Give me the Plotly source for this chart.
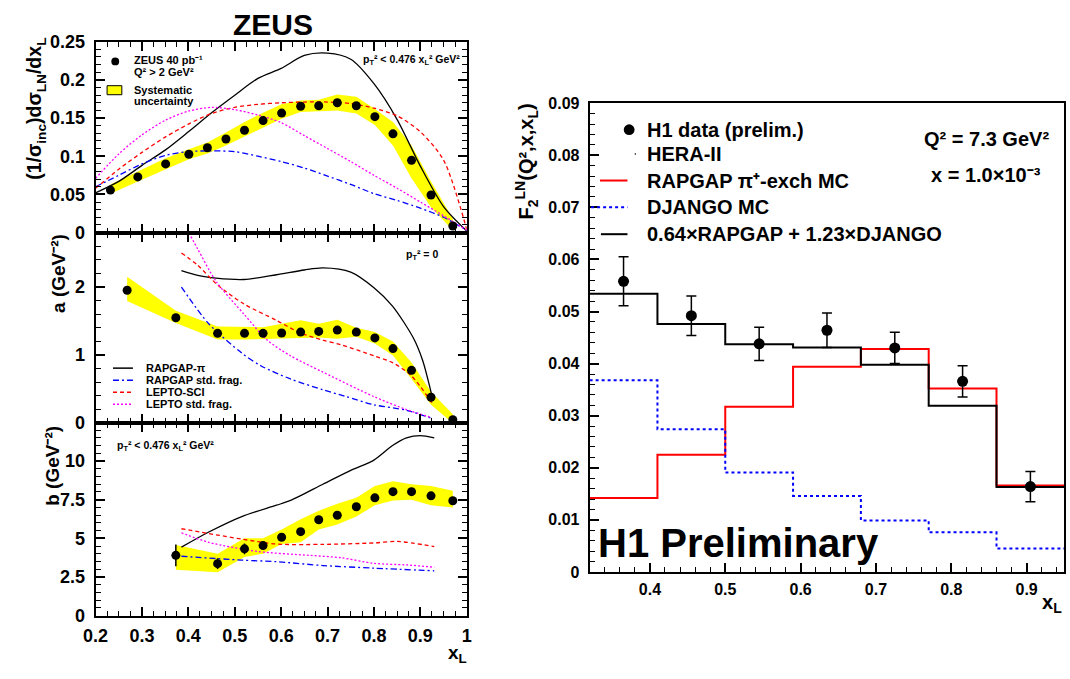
import plotly.graph_objects as go

# ---------------- ZEUS (left) data ----------------
x_top = [0.232, 0.291, 0.351, 0.401, 0.441, 0.481, 0.521, 0.561, 0.601, 0.642,
         0.681, 0.721, 0.762, 0.802, 0.841, 0.881, 0.923, 0.970]
sigma_top = [0.0556, 0.0729, 0.0899, 0.1026, 0.1111, 0.1226, 0.134, 0.1467, 0.1565,
             0.1654, 0.1662, 0.170, 0.1662, 0.1518, 0.1293, 0.0946, 0.0492, 0.0085]
sigma_top_hi = [0.0628, 0.0797, 0.0975, 0.109, 0.118, 0.131, 0.145, 0.157, 0.168,
                0.173, 0.174, 0.181, 0.178, 0.162, 0.145, 0.114, 0.067, 0.018]
sigma_top_lo = [0.0509, 0.067, 0.083, 0.096, 0.1035, 0.114, 0.126, 0.138, 0.149,
                0.158, 0.159, 0.160, 0.156, 0.141, 0.114, 0.071, 0.033, 0.003]

xc_top = [0.2, 0.25, 0.3, 0.35, 0.4, 0.45, 0.5, 0.55, 0.6, 0.65, 0.7, 0.75, 0.8,
          0.85, 0.9, 0.95, 1.0]
top_rapgap_pi = [0.052, 0.067, 0.088, 0.108, 0.132, 0.157, 0.180, 0.202, 0.215, 0.232,
                 0.235, 0.227, 0.195, 0.148, 0.087, 0.034, 0.002]
top_rapgap_std = [0.060, 0.075, 0.090, 0.101, 0.106, 0.107, 0.106, 0.100, 0.093, 0.0845,
                  0.074, 0.063, 0.051, 0.042, 0.032, 0.020, 0.003]
top_lepto_sci = [0.058, 0.083, 0.105, 0.125, 0.142, 0.156, 0.164, 0.168, 0.170, 0.171,
                 0.171, 0.169, 0.163, 0.153, 0.132, 0.095, 0.004]
top_lepto_std = [0.071, 0.103, 0.128, 0.147, 0.159, 0.164, 0.161, 0.154, 0.144, 0.127,
                 0.110, 0.093, 0.075, 0.058, 0.040, 0.022, 0.003]

x_mid = [0.268, 0.373, 0.463, 0.521, 0.561, 0.601, 0.642, 0.681, 0.721, 0.762,
         0.802, 0.841, 0.881, 0.923, 0.970]
a_mid = [1.952, 1.548, 1.319, 1.319, 1.319, 1.324, 1.338, 1.348, 1.367, 1.338,
         1.252, 1.095, 0.776, 0.381, 0.052]
a_mid_hi = [2.15, 1.65, 1.42, 1.42, 1.41, 1.46, 1.51, 1.46, 1.52, 1.40, 1.34, 1.20,
            0.89, 0.46, 0.13]
a_mid_lo = [1.795, 1.47, 1.23, 1.23, 1.23, 1.24, 1.25, 1.26, 1.24, 1.27, 1.17, 0.995,
            0.65, 0.27, 0.0]

mid_rapgap_pi_x = [0.385, 0.42, 0.46, 0.52, 0.59, 0.65, 0.69, 0.75, 0.80, 0.84, 0.885,
                   0.905, 0.925]
mid_rapgap_pi = [2.24, 2.17, 2.13, 2.11, 2.18, 2.25, 2.28, 2.22, 1.99, 1.72, 1.25, 0.92, 0.40]
mid_rapgap_std_x = [0.385, 0.444, 0.515, 0.557, 0.62, 0.69, 0.74, 0.80, 0.87, 0.925]
mid_rapgap_std = [2.0, 1.46, 1.03, 0.84, 0.65, 0.49, 0.39, 0.27, 0.19, 0.07]
mid_lepto_sci_x = [0.385, 0.42, 0.463, 0.52, 0.59, 0.64, 0.69, 0.73, 0.80, 0.84, 0.88, 0.925]
mid_lepto_sci = [2.5, 2.32, 2.03, 1.75, 1.51, 1.33, 1.22, 1.15, 0.99, 0.89, 0.70, 0.30]
mid_lepto_std_x = [0.385, 0.42, 0.46, 0.52, 0.57, 0.62, 0.69, 0.80, 0.87, 0.925]
mid_lepto_std = [3.0, 2.56, 2.08, 1.60, 1.22, 0.99, 0.75, 0.39, 0.20, 0.08]

x_bot = [0.373, 0.463, 0.521, 0.561, 0.601, 0.642, 0.681, 0.721, 0.762, 0.802,
         0.841, 0.881, 0.923, 0.970]
b_bot = [3.90, 3.36, 4.32, 4.53, 5.07, 5.43, 6.20, 6.49, 7.04, 7.62, 8.02, 8.02, 7.75, 7.43]
b_bot_err = [0.7, 0.35, 0.35, 0.25, 0.2, 0.15, 0.15, 0.15, 0.15, 0.15, 0.15, 0.15, 0.15, 0.15]
b_bot_hi = [4.57, 4.0, 5.0, 5.0, 5.57, 6.24, 6.78, 7.24, 7.62, 8.39, 8.7, 8.5, 8.39, 8.08]
b_bot_lo = [2.96, 2.8, 3.8, 4.0, 4.63, 4.74, 5.57, 5.89, 6.41, 7.14, 7.45, 7.5, 7.14, 6.99]

bot_rapgap_pi_x = [0.385, 0.444, 0.515, 0.59, 0.62, 0.69, 0.75, 0.80, 0.84, 0.87, 0.90, 0.93]
bot_rapgap_pi = [4.43, 5.41, 6.41, 7.14, 7.45, 8.5, 9.4, 10.06, 11.0, 11.5, 11.65, 11.5]
bot_rapgap_std_x = [0.385, 0.515, 0.59, 0.69, 0.80, 0.93]
bot_rapgap_std = [3.84, 3.59, 3.49, 3.24, 3.07, 2.9]
bot_lepto_sci_x = [0.385, 0.515, 0.59, 0.69, 0.80, 0.85, 0.93]
bot_lepto_sci = [5.62, 4.95, 4.63, 4.61, 4.70, 4.80, 4.47]
bot_lepto_std_x = [0.385, 0.444, 0.55, 0.66, 0.73, 0.80, 0.87, 0.93]
bot_lepto_std = [5.36, 4.74, 4.15, 3.90, 3.74, 3.38, 3.28, 3.13]

model_names = ["RAPGAP-π", "RAPGAP std. frag.", "LEPTO-SCI", "LEPTO std. frag."]

left_xticks = [0.2, 0.3, 0.4, 0.5, 0.6, 0.7, 0.8, 0.9, 1.0]
left_xticktext = ["0.2", "0.3", "0.4", "0.5", "0.6", "0.7", "0.8", "0.9", "1"]
top_yticks = [0, 0.05, 0.1, 0.15, 0.2, 0.25]
top_yticktext = ["0", "0.05", "0.1", "0.15", "0.2", "0.25"]
mid_yticks = [0, 1, 2]
bot_yticks = [0, 2.5, 5, 7.5, 10]
bot_yticktext = ["0", "2.5", "5", "7.5", "10"]

# ---------------- H1 (right) data ----------------
h1_edges = [0.32, 0.41, 0.50, 0.59, 0.68, 0.77, 0.86, 0.95]
h1_x = [0.365, 0.455, 0.545, 0.635, 0.725, 0.815, 0.905]
h1_f2 = [0.0558, 0.0492, 0.0438, 0.0464, 0.0430, 0.0366, 0.0164]
h1_err = [0.0047, 0.0038, 0.0032, 0.0033, 0.0030, 0.0030, 0.0029]
rapgap_pi_mc = [0.0142, 0.0225, 0.0317, 0.0394, 0.0428, 0.0352, 0.0166]
django_mc = [0.0368, 0.0274, 0.0191, 0.0146, 0.0099, 0.0076, 0.0045]
combined_mc = [0.0534, 0.0476, 0.0437, 0.0431, 0.0398, 0.0319, 0.0163]

right_xticks = [0.4, 0.5, 0.6, 0.7, 0.8, 0.9]
right_yticks = [0, 0.01, 0.02, 0.03, 0.04, 0.05, 0.06, 0.07, 0.08, 0.09]
right_yticktext = ["0", "0.01", "0.02", "0.03", "0.04", "0.05", "0.06", "0.07", "0.08", "0.09"]

# ---------------- styling ----------------
FONT = "Liberation Sans, Arial, Helvetica, sans-serif"
RED, BLUE, MAG, YEL = "#ff0000", "#0000ff", "#ff00ff", "#ffff00"
W, H = 1070, 679


def px_x(p):
    return p / W


def px_y(p):
    return 1 - p / H


fig = go.Figure()


def band(x, lo, hi, xa, ya):
    fig.add_trace(go.Scatter(
        x=list(x) + list(x)[::-1], y=list(hi) + list(lo)[::-1],
        fill="toself", fillcolor=YEL, line=dict(width=0, color=YEL),
        mode="lines", hoverinfo="skip", xaxis=xa, yaxis=ya, showlegend=False))


curve_styles = [
    ("black", "solid", 1.3),
    (BLUE, "6px,3px,2px,3px", 1.3),
    (RED, "4px,3px", 1.3),
    (MAG, "2px,2px", 1.3),
]


def curves(series, xa, ya):
    for name, (col, dash, w), (xs, ys) in zip(model_names, curve_styles, series):
        fig.add_trace(go.Scatter(
            x=xs, y=ys, mode="lines",
            line=dict(color=col, dash=dash, width=w, shape="spline", smoothing=0.8),
            name=name, xaxis=xa, yaxis=ya, showlegend=False, hoverinfo="skip"))


band(x_top, sigma_top_lo, sigma_top_hi, "x3", "y3")
curves([(xc_top, top_rapgap_pi), (xc_top, top_rapgap_std), (xc_top, top_lepto_sci),
        (xc_top, top_lepto_std)], "x3", "y3")
fig.add_trace(go.Scatter(x=x_top, y=sigma_top, mode="markers",
                         marker=dict(color="black", size=9), name="ZEUS 40 pb-1",
                         xaxis="x3", yaxis="y3", showlegend=False))

band(x_mid, a_mid_lo, a_mid_hi, "x2", "y2")
curves([(mid_rapgap_pi_x, mid_rapgap_pi), (mid_rapgap_std_x, mid_rapgap_std),
        (mid_lepto_sci_x, mid_lepto_sci), (mid_lepto_std_x, mid_lepto_std)], "x2", "y2")
fig.add_trace(go.Scatter(x=x_mid, y=a_mid, mode="markers", marker=dict(color="black", size=9),
                         xaxis="x2", yaxis="y2", showlegend=False))

band(x_bot, b_bot_lo, b_bot_hi, "x", "y")
curves([(bot_rapgap_pi_x, bot_rapgap_pi), (bot_rapgap_std_x, bot_rapgap_std),
        (bot_lepto_sci_x, bot_lepto_sci), (bot_lepto_std_x, bot_lepto_std)], "x", "y")
fig.add_trace(go.Scatter(x=x_bot, y=b_bot, mode="markers", marker=dict(color="black", size=9),
                         error_y=dict(type="data", array=b_bot_err, color="black", thickness=1.5, width=0),
                         xaxis="x", yaxis="y", showlegend=False))


def step(vals):
    return h1_edges, list(vals) + [vals[-1]]


hx, hy = step(rapgap_pi_mc)
fig.add_trace(go.Scatter(x=hx, y=hy, mode="lines", line=dict(color=RED, width=2, shape="hv"),
                         name="RAPGAP", xaxis="x4", yaxis="y4", showlegend=False))
hx, hy = step(django_mc)
fig.add_trace(go.Scatter(x=hx, y=hy, mode="lines",
                         line=dict(color=BLUE, width=2, shape="hv", dash="dot"),
                         name="DJANGO", xaxis="x4", yaxis="y4", showlegend=False))
hx, hy = step(combined_mc)
fig.add_trace(go.Scatter(x=hx, y=hy, mode="lines", line=dict(color="black", width=2, shape="hv"),
                         name="combined", xaxis="x4", yaxis="y4", showlegend=False))
fig.add_trace(go.Scatter(x=h1_x, y=h1_f2, mode="markers", marker=dict(color="black", size=11),
                         error_y=dict(type="data", array=h1_err, color="black", thickness=1.5, width=5),
                         name="H1 data", xaxis="x4", yaxis="y4", showlegend=False))

LX = [px_x(84), px_x(461.5)]
frame = dict(showline=True, linecolor="black", linewidth=2, showgrid=False, zeroline=False,
             ticks="inside", tickcolor="black", tickwidth=1.5)


def minor(dt, t0):
    return dict(dtick=dt, tick0=t0, ticks="inside", ticklen=5, tickcolor="black", tickwidth=1.2)


left_x_common = dict(frame, range=[0.2, 1.0], domain=LX, mirror="allticks", ticklen=9,
                     tickmode="array", tickvals=left_xticks, ticktext=left_xticktext,
                     minor=minor(0.025, 0.2))
tickfont_l = dict(family=FONT, size=18, color="black", weight="bold")
tickfont_r = dict(family=FONT, size=16, color="black", weight="bold")

fig.update_layout(
    width=W, height=H, margin=dict(l=0, r=0, t=0, b=0),
    paper_bgcolor="white", plot_bgcolor="white",
    font=dict(family=FONT, color="black", weight="bold"),
    showlegend=False,
    xaxis=dict(left_x_common, anchor="y", showticklabels=True, tickfont=tickfont_l,
               ticklabelstandoff=3),
    xaxis2=dict(left_x_common, anchor="y2", showticklabels=False, matches="x"),
    xaxis3=dict(left_x_common, anchor="y3", showticklabels=False, matches="x"),
    yaxis=dict(frame, domain=[px_y(624), px_y(425.7)], range=[0, 12.45], anchor="x",
               mirror="allticks", ticklen=9, tickmode="array", tickvals=bot_yticks,
               ticktext=bot_yticktext, tickfont=tickfont_l, ticklabelstandoff=5,
               minor=minor(0.5, 0)),
    yaxis2=dict(frame, domain=[px_y(425.7), px_y(229.3)], range=[0, 2.8], anchor="x2",
                mirror="allticks", ticklen=9, tickmode="array", tickvals=mid_yticks,
                ticktext=[str(v) for v in mid_yticks], tickfont=tickfont_l, ticklabelstandoff=5,
                minor=minor(0.2, 0)),
    yaxis3=dict(frame, domain=[px_y(229.3), px_y(32.7)], range=[0, 0.25], anchor="x3",
                mirror="allticks", ticklen=9, tickmode="array", tickvals=top_yticks,
                ticktext=top_yticktext, tickfont=tickfont_l, ticklabelstandoff=5,
                minor=minor(0.01, 0)),
    xaxis4=dict(frame, domain=[px_x(586.5), px_x(1069.3)], range=[0.32, 0.95], anchor="y4",
                mirror=True, ticklen=9, tickmode="array", tickvals=right_xticks,
                ticktext=[str(v) for v in right_xticks], tickfont=tickfont_r,
                ticklabelstandoff=2, minor=minor(0.02, 0.32)),
    yaxis4=dict(frame, domain=[px_y(579), px_y(96)], range=[0, 0.09], anchor="x4",
                mirror=True, ticklen=9, tickmode="array", tickvals=right_yticks,
                ticktext=right_yticktext, tickfont=tickfont_r, ticklabelstandoff=5,
                minor=minor(0.002, 0)),
)


def ann(text, x, y, size, xanchor="center", yanchor="middle", angle=0):
    fig.add_annotation(text=text, x=px_x(x), y=px_y(y), xref="paper", yref="paper",
                       xanchor=xanchor, yanchor=yanchor, textangle=angle, showarrow=False,
                       font=dict(family=FONT, size=size, color="black", weight="bold"))


def seg(x0, x1, y, color, dash="solid", width=1.3):
    fig.add_shape(type="line", xref="paper", yref="paper", x0=px_x(x0), x1=px_x(x1),
                  y0=px_y(y), y1=px_y(y), line=dict(color=color, dash=dash, width=width))


def dot(x, y, r, color="black"):
    fig.add_shape(type="circle", xref="paper", yref="paper", x0=px_x(x - r), x1=px_x(x + r),
                  y0=px_y(y + r), y1=px_y(y - r), fillcolor=color, line=dict(color=color, width=0))


ann("ZEUS", 264, 15, 30)
ann("p<sub>T</sub>² < 0.476 x<sub>L</sub>² GeV²", 457, 51.7, 10.5, xanchor="right")
ann("p<sub>T</sub>² = 0", 416.5, 252.3, 10.5)
ann("p<sub>T</sub>² < 0.476 x<sub>L</sub>² GeV²", 104, 449, 10.5, xanchor="left")
ann("x<sub>L</sub>", 452, 664, 19)
ann("(1/σ<sub>inc</sub>)dσ<sub>LN</sub>/dx<sub>L</sub>", 23, 27, 19.5, yanchor="top", angle=-90)
ann("a (GeV⁻²)", 47, 229, 19, yanchor="top", angle=-90)
ann("b (GeV⁻²)", 40, 426, 19, yanchor="top", angle=-90)

dot(104, 53, 4)
ann("ZEUS 40 pb⁻¹", 121, 52, 11, xanchor="left")
ann("Q² > 2 GeV²", 121, 63.5, 11, xanchor="left")
fig.add_shape(type="rect", xref="paper", yref="paper", x0=px_x(95.7), x1=px_x(110.7),
              y0=px_y(87.3), y1=px_y(78), fillcolor=YEL, line=dict(color="black", width=1))
ann("Systematic", 121, 82, 11, xanchor="left")
ann("uncertainty", 121, 93.5, 11, xanchor="left")

for i, (name, (col, dash, w)) in enumerate(zip(model_names, curve_styles)):
    yy = 369 + 12.4 * i
    seg(101.7, 122, yy, col, dash, 1.5)
    ann(name, 133, yy, 11, xanchor="left")

ann("Q² = 7.3 GeV²", 990, 133, 20)
ann("x = 1.0×10⁻³", 990, 170, 20)
ann("H1 Preliminary", 593, 549, 40, xanchor="left")
ann("x<sub>L</sub>", 1069, 612, 20, xanchor="right")
ann("F<sub>2</sub><sup>LN</sup>(Q²,x,x<sub>L</sub>)", 522, 94, 20, yanchor="top", angle=-90)

dot(626.7, 123.3, 5.5)
ann("H1 data (prelim.)", 643, 123.3, 20, xanchor="left")
dot(633, 148.3, 0.8)
ann("HERA-II", 643, 148.3, 20, xanchor="left")
seg(597, 625, 175.7, RED, "solid", 2)
ann("RAPGAP π⁺-exch MC", 643, 175.7, 20, xanchor="left")
seg(588, 625, 203.3, BLUE, "dot", 2)
ann("DJANGO MC", 643, 203.3, 20, xanchor="left")
seg(598, 625, 231, "black", "solid", 2)
ann("0.64×RAPGAP + 1.23×DJANGO", 643, 231, 20, xanchor="left")

fig.write_html("out.html")
